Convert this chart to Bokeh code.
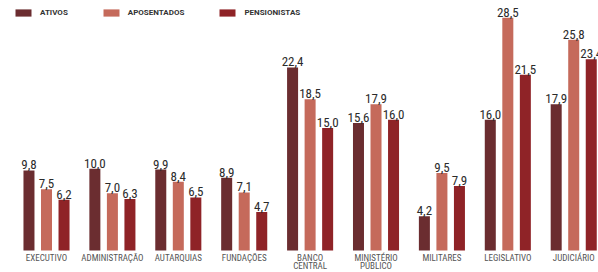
from bokeh.plotting import figure
from bokeh.models import ColumnDataSource, Legend, LegendItem, Range1d
from bokeh.core.properties import value
from bokeh.embed import file_html
from bokeh.resources import INLINE

categories = ["EXECUTIVO", "ADMINISTRAÇÃO", "AUTARQUIAS", "FUNDAÇÕES", "BANCO\nCENTRAL",
              "MINISTÉRIO\nPÚBLICO", "MILITARES", "LEGISLATIVO", "JUDICIÁRIO"]
ativos = [9.8, 10.0, 9.9, 8.9, 22.4, 15.6, 4.2, 16.0, 17.9]
aposentados = [7.5, 7.0, 8.4, 7.1, 18.5, 17.9, 9.5, 28.5, 25.8]
pensionistas = [6.2, 6.3, 6.5, 4.7, 15.0, 16.0, 7.9, 21.5, 23.4]
series_names = ["ATIVOS", "APOSENTADOS", "PENSIONISTAS"]

colors = ["#6b2d30", "#c56a5b", "#8f2327"]
offsets = [-0.266, 0.0, 0.266]
bar_w = 0.167

NUM_FONT = value("'Liberation Sans Narrow', 'Roboto Condensed', Roboto")
CAT_FONT = value("'Liberation Sans Narrow', 'Roboto Condensed', Roboto")

p = figure(width=598, height=272, output_backend="svg", toolbar_location=None,
           x_range=Range1d(-0.698, 8.376), y_range=Range1d(-2.693, 30.6),
           min_border=0, background_fill_color="white", border_fill_color="white")
p.xaxis.visible = False
p.yaxis.visible = False
p.grid.visible = False
p.outline_line_color = None

xs = list(range(len(categories)))
renderers = []
for vals, col, off in zip([ativos, aposentados, pensionistas], colors, offsets):
    src = ColumnDataSource(dict(
        x=[i + off for i in xs],
        top=vals,
        lab=[("%.1f" % v).replace(".", ",") for v in vals],
    ))
    r = p.vbar(x="x", top="top", bottom=0, width=bar_w, source=src,
               fill_color=col, line_color=None)
    renderers.append(r)
    p.text(x="x", y="top", text="lab", source=src, text_align="center",
           text_baseline="bottom", y_offset=-1, text_font=NUM_FONT,
           text_font_size="13px", text_color="#2b2b2b")

line1 = [c.split("\n")[0] for c in categories]
line2 = [c.split("\n")[1] if "\n" in c else "" for c in categories]
csrc = ColumnDataSource(dict(x=xs, y=[0] * len(xs), l1=line1, l2=line2))
p.text(x="x", y="y", text="l1", source=csrc, text_align="center", text_baseline="middle",
       y_offset=8, text_font=CAT_FONT, text_font_size="9px", text_color="#555555")
p.text(x="x", y="y", text="l2", source=csrc, text_align="center", text_baseline="middle",
       y_offset=16, text_font=CAT_FONT, text_font_size="9px", text_color="#555555")

legend = Legend(items=[LegendItem(label=n, renderers=[r]) for n, r in zip(series_names, renderers)],
                orientation="horizontal", location=(13, 255),
                glyph_width=20, glyph_height=9, label_height=9, label_standoff=7,
                spacing=33, padding=0, margin=0, border_line_alpha=0,
                background_fill_alpha=0, label_text_font_size="8px",
                label_text_font_style="bold", label_text_font="Roboto",
                label_text_color="#333333", label_text_baseline="middle")
p.add_layout(legend, "center")

open("out.html", "w").write(file_html(p, INLINE))
